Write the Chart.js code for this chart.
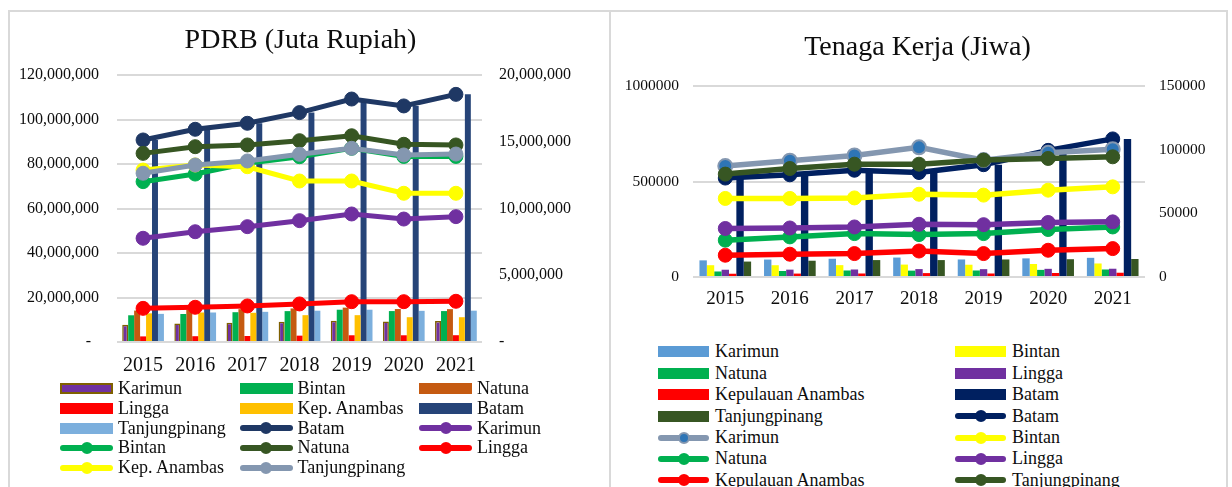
<!DOCTYPE html>
<html>
<head>
<meta charset="utf-8">
<script src="https://cdn.jsdelivr.net/npm/chart.js@4.4.1/dist/chart.umd.min.js"></script>
<style>
  body { margin: 0; background: #fff; width: 1232px; height: 487px; overflow: hidden; position: relative;
         font-family: 'Liberation Serif', 'Times New Roman', serif; color: #0d0d0d; }
  .panel { position: absolute; top: 10px; height: 540px; border: 2px solid #d9d9d9; box-sizing: border-box; }
  #panelLeft { left: 8px; width: 603px; }
  #panelRight { left: 609px; width: 619px; }
  canvas { position: absolute; }
  #pdrbChart { left: 2px; top: 12px; }
  #tkChart { left: 611px; top: 12px; }
  .legend { position: absolute; display: grid; font-size: 18px; }
  #pdrbLegend { left: 60px; top: 379px; grid-template-columns: 179.5px 179.5px 179.5px; grid-auto-rows: 19.7px; }
  #tkLegend { left: 658px; top: 341.3px; grid-template-columns: 297px 297px; grid-auto-rows: 21.4px; }
  .item { display: flex; align-items: center; white-space: nowrap; }
  .patch { position: relative; flex: none; height: 12px; }
  .patch .bar { position: absolute; left: 0; right: 0; top: 0.5px; height: 11px; box-sizing: border-box; }
  .patch .line { position: absolute; left: 0; right: 0; top: 3px; height: 6px; border-radius: 3px; }
  .patch .dot { position: absolute; top: 0; left: 50%; width: 12px; height: 12px; margin-left: -6px;
                border-radius: 50%; box-sizing: border-box; }
</style>
</head>
<body>
<div class="panel" id="panelLeft"></div>
<div class="panel" id="panelRight"></div>
<canvas id="pdrbChart" width="597" height="370"></canvas>
<canvas id="tkChart" width="613" height="300"></canvas>
<div class="legend" id="pdrbLegend"></div>
<div class="legend" id="tkLegend"></div>
<script>
const years = ['2015', '2016', '2017', '2018', '2019', '2020', '2021'];

// PDRB (juta rupiah)
const pdrbBatam = [90800000, 95600000, 98300000, 103100000, 109200000, 106100000, 111300000];
const pdrbKarimun = [7770000, 8260000, 8640000, 9090000, 9590000, 9210000, 9390000];
const pdrbBintan = [12010000, 12580000, 13390000, 13880000, 14510000, 13900000, 13900000];
const pdrbNatuna = [14130000, 14630000, 14760000, 15080000, 15450000, 14810000, 14760000];
const pdrbLingga = [2520000, 2600000, 2700000, 2850000, 3020000, 3020000, 3050000];
const pdrbAnambas = [12880000, 13260000, 13130000, 12060000, 12060000, 11140000, 11140000];
const pdrbTanjungpinang = [12640000, 13260000, 13560000, 14060000, 14510000, 14010000, 14080000];

// Tenaga kerja (jiwa)
const tkBatam = [518000, 535000, 559000, 547000, 588000, 663000, 723000];
const tkKarimun = [87100, 91300, 95500, 101800, 91800, 97500, 100400];
const tkBintan = [61700, 61700, 62100, 65000, 64300, 68200, 70800];
const tkNatuna = [28900, 31500, 34100, 33300, 34100, 37300, 39300];
const tkLingga = [38100, 38500, 39300, 41400, 41100, 42800, 43300];
const tkAnambas = [17100, 17900, 18400, 20400, 18400, 21000, 22300];
const tkTanjungpinang = [80800, 85200, 88600, 88600, 91800, 93100, 94400];

const FONT = "'Liberation Serif', 'Times New Roman', serif";
const TEXT = '#0d0d0d';
const GRID = '#d9d9d9';

function barSet(label, data, color, border) {
  return {
    type: 'bar', label: label, data: data, backgroundColor: color,
    borderColor: border || color, borderWidth: border ? 1.5 : 0,
    yAxisID: 'y', order: 100
  };
}

// later lines are drawn on top, like the original
let lineCount = 0;
function lineSet(label, data, color, axis, dotColor, width) {
  lineCount++;
  return {
    type: 'line', label: label, data: data, borderColor: color, backgroundColor: color,
    borderWidth: width, pointRadius: 7, pointBorderWidth: dotColor ? 2 : 1,
    pointBackgroundColor: dotColor || color, pointBorderColor: color,
    tension: 0, fill: false, yAxisID: axis, order: 50 - lineCount
  };
}

function thousands(v) {
  return v.toLocaleString('en-US');
}

function makeOptions(o) {
  return {
    responsive: false,
    animation: false,
    devicePixelRatio: 1,
    layout: { padding: 0 },
    plugins: {
      legend: { display: false },
      tooltip: { enabled: false },
      title: {
        display: true, text: o.title, color: TEXT,
        font: { family: FONT, size: 28, weight: 'normal' },
        padding: o.titlePad
      }
    },
    scales: {
      x: {
        offset: true,
        stacked: false,
        categoryPercentage: o.catPct,
        grid: { display: false, drawTicks: false },
        border: { display: false },
        ticks: { color: TEXT, font: { family: FONT, size: o.xFont }, padding: o.xPad },
        afterFit: s => { s.height = o.xHeight; }
      },
      y: {
        position: 'left', min: 0, max: o.yMax,
        grid: { color: GRID, lineWidth: 2, drawTicks: false },
        border: { display: false },
        ticks: { stepSize: o.yStep, color: TEXT, font: { family: FONT, size: o.tickFont }, padding: o.yPad, callback: o.yFmt },
        afterFit: s => { s.width = o.yWidth; }
      },
      y1: {
        position: 'right', min: 0, max: o.y1Max,
        grid: { display: false, drawTicks: false },
        border: { display: false },
        ticks: { stepSize: o.y1Step, color: TEXT, font: { family: FONT, size: o.tickFont }, padding: o.y1Pad, callback: o.y1Fmt },
        afterFit: s => { s.width = o.y1Width; }
      }
    }
  };
}

function drawLegend(chart, boxId, patchWidth, gap) {
  const box = document.getElementById(boxId);
  for (const ds of chart.data.datasets) {
    const item = document.createElement('div');
    item.className = 'item';
    const patch = document.createElement('span');
    patch.className = 'patch';
    patch.style.width = patchWidth + 'px';
    patch.style.marginRight = gap + 'px';
    if (ds.type === 'bar') {
      const b = document.createElement('span');
      b.className = 'bar';
      b.style.background = ds.backgroundColor;
      if (ds.borderWidth) b.style.border = '2px solid ' + ds.borderColor;
      patch.appendChild(b);
    } else {
      const l = document.createElement('span');
      l.className = 'line';
      l.style.background = ds.borderColor;
      const d = document.createElement('span');
      d.className = 'dot';
      d.style.background = ds.pointBackgroundColor;
      d.style.border = '2px solid ' + ds.pointBorderColor;
      patch.appendChild(l);
      patch.appendChild(d);
    }
    const txt = document.createElement('span');
    txt.innerText = ds.label;
    item.appendChild(patch);
    item.appendChild(txt);
    box.appendChild(item);
  }
}

// ---- PDRB chart ----
Chart.defaults.font.family = FONT;
Chart.defaults.datasets.bar.barPercentage = 1;

lineCount = 0;
const pdrbSets = [
  barSet('Karimun', pdrbKarimun, '#7030a0', '#7f6000'),
  barSet('Bintan', pdrbBintan, '#00b050'),
  barSet('Natuna', pdrbNatuna, '#c55a11'),
  barSet('Lingga', pdrbLingga, '#ff0000'),
  barSet('Kep. Anambas', pdrbAnambas, '#ffc000'),
  barSet('Batam', pdrbBatam, '#264478'),
  barSet('Tanjungpinang', pdrbTanjungpinang, '#7cafdd'),
  lineSet('Batam', pdrbBatam, '#1f3864', 'y', null, 5),
  lineSet('Karimun', pdrbKarimun, '#7030a0', 'y1', null, 5),
  lineSet('Bintan', pdrbBintan, '#00b050', 'y1', null, 5),
  lineSet('Natuna', pdrbNatuna, '#375623', 'y1', null, 5),
  lineSet('Lingga', pdrbLingga, '#ff0000', 'y1', null, 5),
  lineSet('Kep. Anambas', pdrbAnambas, '#ffff00', 'y1', null, 5),
  lineSet('Tanjungpinang', pdrbTanjungpinang, '#8497b0', 'y1', null, 5)
];

const pdrbChart = new Chart(document.getElementById('pdrbChart').getContext('2d'), {
  type: 'bar',
  data: { labels: years, datasets: pdrbSets },
  options: makeOptions({
    title: 'PDRB (Juta Rupiah)', titlePad: { top: 12.2, bottom: 17.2 },
    catPct: 0.84, xFont: 20, xPad: 11.7, xHeight: 40, tickFont: 16,
    yMax: 120000000, yStep: 20000000, yPad: 18, yWidth: 115,
    yFmt: v => v === 0 ? '-  ' : thousands(v),
    y1Max: 20000000, y1Step: 5000000, y1Pad: 17, y1Width: 117,
    y1Fmt: v => v === 0 ? '-' : thousands(v)
  })
});
drawLegend(pdrbChart, 'pdrbLegend', 53, 5);

// ---- Tenaga kerja chart ----
lineCount = 0;
const tkSets = [
  barSet('Karimun', tkKarimun, '#5b9bd5'),
  barSet('Bintan', tkBintan, '#ffff00'),
  barSet('Natuna', tkNatuna, '#00b050'),
  barSet('Lingga', tkLingga, '#7030a0'),
  barSet('Kepulauan Anambas', tkAnambas, '#ff0000'),
  barSet('Batam', tkBatam, '#002060'),
  barSet('Tanjungpinang', tkTanjungpinang, '#375623'),
  lineSet('Batam', tkBatam, '#002060', 'y', null, 5.5),
  lineSet('Karimun', tkKarimun, '#8497b0', 'y1', '#2e75b6', 5.5),
  lineSet('Bintan', tkBintan, '#ffff00', 'y1', null, 5.5),
  lineSet('Natuna', tkNatuna, '#00b050', 'y1', null, 5.5),
  lineSet('Lingga', tkLingga, '#7030a0', 'y1', null, 5.5),
  lineSet('Kepulauan Anambas', tkAnambas, '#ff0000', 'y1', null, 5.5),
  lineSet('Tanjungpinang', tkTanjungpinang, '#375623', 'y1', null, 5.5)
];

const tkChart = new Chart(document.getElementById('tkChart').getContext('2d'), {
  type: 'bar',
  data: { labels: years, datasets: tkSets },
  options: makeOptions({
    title: 'Tenaga Kerja (Jiwa)', titlePad: { top: 19.2, bottom: 21.2 },
    catPct: 0.78, xFont: 19, xPad: 10.6, xHeight: 35, tickFont: 15.5,
    yMax: 1000000, yStep: 500000, yPad: 14, yWidth: 82,
    yFmt: v => String(v),
    y1Max: 150000, y1Step: 50000, y1Pad: 14, y1Width: 79,
    y1Fmt: v => String(v)
  })
});
drawLegend(tkChart, 'tkLegend', 51, 6);
</script>
</body>
</html>
